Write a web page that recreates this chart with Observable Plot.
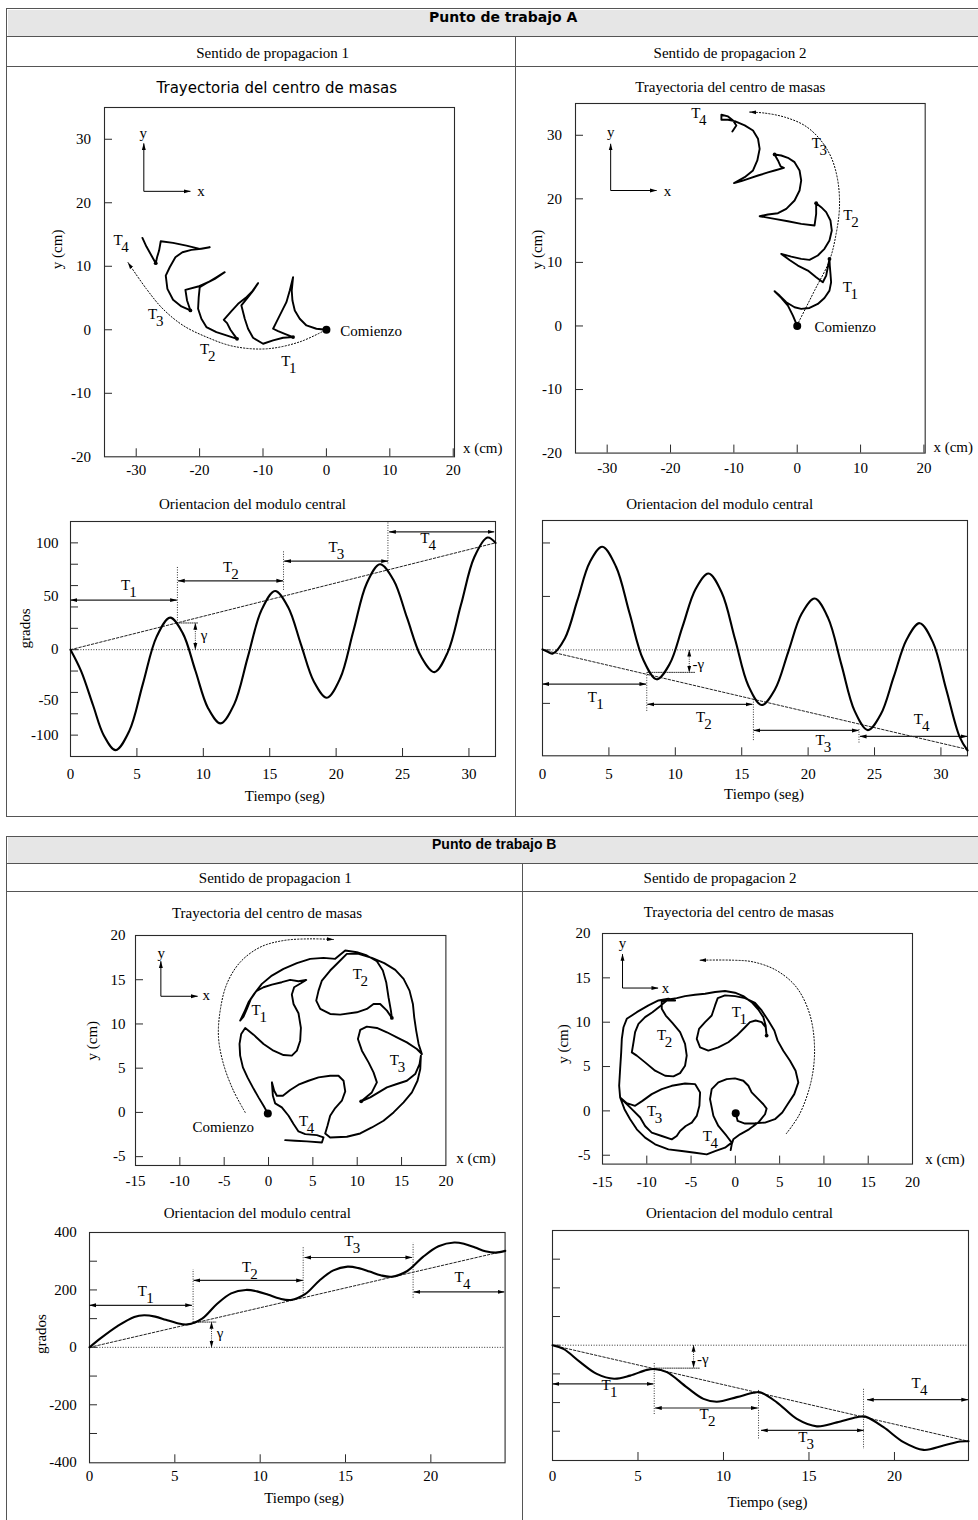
<!DOCTYPE html>
<html lang="es">
<head>
<meta charset="utf-8">
<script src="https://cdn.jsdelivr.net/npm/d3@7"></script>
<script src="https://cdn.jsdelivr.net/npm/@observablehq/plot@0.6"></script>
<style>
html,body{margin:0;padding:0;background:#fff;}
body{width:978px;height:1520px;overflow:hidden;}
#page{position:relative;width:978px;height:1520px;overflow:hidden;font-family:"Liberation Serif","Times New Roman",serif;color:#000;}
#page div{position:absolute;white-space:nowrap;}
</style>
</head>
<body>
<div id="page"></div>
<script>
// ---------------- DATA ----------------
// tick values / labels
const xTicksTrajA = [-30,-20,-10,0,10,20];
const xLabelsTrajA = [-30,-20,-10,0,10,20];
const yTicksTrajA = [-10,0,10,20,30];
const yLabelsTrajA = [-20,-10,0,10,20,30];
const xTicksTrajB = [-10,-5,0,5,10,15];
const xLabelsTrajB = [-15,-10,-5,0,5,10,15,20];
const yTicksTrajB = [-5,0,5,10,15];
const yLabelsTrajB = [-5,0,5,10,15,20];
const xTicksOriA = [5,10,15,20,25,30];
const xLabelsOriA = [0,5,10,15,20,25,30];
const yTicksOriA1 = [-80,-60,-40,-20,0,20,40,60,80,100];
const yLabelsOriA1 = [[100,"100"],[50,"50"],[0,"0"],[-47,"-50"],[-80,"-100"]];
const yTicksOriA2 = [-50,0,50,100];
const xTicksOriB = [5,10,15,20];
const xLabelsOriB = [0,5,10,15,20];
const yTicksOriB = [-300,-200,-100,0,100,200,300];
const yLabelsOriB1 = [-400,-200,0,200,400];

// Punto A, sentido 1 : trayectoria (cm)
const trayA1 = [[0,0],[-1.58,0.16],[-3.15,0.68],[-4.21,1.73],[-4.99,3.04],[-5.36,4.61],[-5.47,6.18],[-5.26,8.28],[-5.78,6.18],[-6.31,4.35],[-7.10,2.78],[-7.89,1.21],[-8.41,0.16],[-7.62,-0.21],[-6.57,-0.63],[-5.26,-1.15],[-6.83,-1.26],[-8.41,-1.68],[-9.99,-2.20],[-11.57,-1.26],[-12.36,0.16],[-12.88,1.73],[-13.41,3.83],[-12.36,5.14],[-11.46,6.29],[-10.78,7.34],[-11.67,6.08],[-12.72,5.03],[-13.93,4.09],[-14.98,2.94],[-16.19,1.57],[-15.67,1.05],[-15.14,0],[-14.62,-0.73],[-14.09,-1.42],[-15.77,-0.89],[-17.35,-0.37],[-18.93,0.42],[-19.72,1.73],[-20.24,3.30],[-20.14,5.14],[-19.98,6.71],[-18.93,7.34],[-17.61,8.02],[-16.04,9.07],[-17.35,8.28],[-18.66,7.49],[-20.24,6.81],[-22.24,6.29],[-21.98,4.61],[-21.45,3.04],[-22.87,3.67],[-24.19,4.72],[-25.08,6.45],[-25.34,8.54],[-24.71,9.85],[-23.82,11.43],[-22.71,12.21],[-21.29,12.58],[-19.72,12.74],[-18.40,13.0],[-19.98,12.74],[-22.08,13.26],[-24.19,13.68],[-26.13,13.94],[-26.39,12.47],[-26.71,11.43],[-26.92,10.48],[-27.6,11.69],[-28.39,13.10],[-29.02,14.47]];
const jointsA1 = [[-5.26,-1.15],[-14.09,-1.42],[-21.45,3.04],[-26.92,10.48]];
const arcA1 = [[-0.26,-0.1],[-4.2,-1.9],[-9.46,-3.0],[-14.7,-2.6],[-18.9,-1.15],[-22.6,0.68],[-25.8,3.3],[-28.4,6.45],[-31.3,10.6]];
const labelsTrayA1 = [[-6.4,-4.9,"1"],[-19.2,-3.0,"2"],[-27.4,2.5,"3"],[-32.86,14.15,"4"]];
const insetA1 = [[-28.8,21.8,-28.8,29.35],[-28.8,21.8,-21.45,21.8]];
const insetLabA1 = [[-28.9,31.0,"y"],[-19.8,21.75,"x"]];

// Punto A, sentido 2 : trayectoria
const trayA2 = [[0,0],[-0.68,1.63],[-1.47,3.2],[-2.52,4.41],[-3.57,5.46],[-2.78,4.78],[-1.73,3.73],[-0.42,2.94],[0.63,2.68],[1.94,2.83],[3.25,3.46],[4.30,4.41],[5.09,5.56],[5.35,6.88],[5.25,8.19],[5.14,9.50],[5.09,10.55],[4.83,9.24],[4.57,7.93],[4.04,6.88],[2.99,7.66],[1.68,8.71],[0.1,9.50],[-1.21,10.39],[-2.52,11.34],[-0.94,10.92],[0.63,10.55],[1.94,10.39],[3.25,11.08],[4.30,12.13],[5.09,13.44],[5.46,15.01],[5.25,16.59],[4.57,17.90],[3.78,18.69],[2.99,19.32],[2.99,17.64],[2.73,15.80],[0.63,16.06],[-1.47,16.48],[-3.57,16.85],[-5.93,17.27],[-4.62,17.53],[-3.04,17.74],[-1.73,18.43],[-0.42,19.74],[0.37,21.31],[0.63,22.89],[0.37,24.46],[-0.42,25.77],[-1.47,26.46],[-2.52,26.82],[-3.57,26.98],[-3.04,26.04],[-2.62,25.09],[-2.10,24.88],[-3.57,24.46],[-4.62,24.15],[-6.19,23.67],[-7.77,23.15],[-8.82,22.78],[-9.97,22.47],[-8.29,23.41],[-6.98,24.46],[-6.30,26.04],[-5.93,27.87],[-6.19,29.45],[-6.98,30.76],[-8.29,31.55],[-9.87,32.23],[-10.92,32.44],[-11.97,32.44],[-11.97,33.23],[-10.92,32.97],[-10.13,32.34],[-9.61,31.55],[-10.24,30.60]];
const jointsA2 = [[5.09,10.55],[2.99,19.32],[-3.57,26.98]];
const arcA2 = [[0,0.16],[2.73,5.56],[5.09,10.29],[6.14,14.49],[6.67,18.69],[6.40,22.89],[5.35,26.56],[3.52,29.45],[1.15,31.55],[-1.99,32.86],[-5.14,33.49],[-7.51,33.65]];
const labelsTrayA2 = [[7.9,6.1,"1"],[8.0,17.5,"2"],[3.0,28.7,"3"],[-16.0,33.4,"4"]];
const insetA2 = [[-29.45,21.31,-29.45,28.66],[-29.45,21.31,-22.2,21.31]];
const insetLabA2 = [[-29.45,30.5,"y"],[-20.47,21.15,"x"]];

// Punto A : orientacion (grados)
const oriA1 = [[0,0],[0.8,-20],[1.7,-52],[2.5,-80],[3.4,-94],[4.43,-76],[5.45,-32],[6.48,12],[7.5,30],[8.45,15.5],[9.4,-19.5],[10.35,-54.5],[11.3,-69],[12.33,-51],[13.35,-7],[14.38,37],[15.4,55],[16.38,40],[17.35,5],[18.33,-30],[19.3,-45],[20.3,-27],[21.3,17.5],[22.3,62],[23.3,80],[24.33,65],[25.35,29.5],[26.38,-6],[27.4,-21],[28.4,-2.5],[29.4,42],[30.4,86.5],[31.4,105],[32,100]];
const trendA1 = [[0,0],[32,100]];
const boundsA1 = [[8.05,25,77.6],[16.04,56,93],[23.9,80.7,120]];
const periodsA1 = [[0,8.0,46.4],[8.1,16.0,64.5],[16.1,23.9,82.9],[24.0,31.9,110.3]];
const labelsOriA1 = [[4.14,60.7,"1"],[11.83,77.6,"2"],[19.77,95.6,"3"],[26.67,104,"4"]];
const gammaA1 = [[9.4,0,9.4,25]];
const gammaGuideA1 = [[8.0,25],[9.6,25]];
const gammaLabA1 = [[9.8,14,"γ"]];

const oriA2 = [[0,0.5],[0.35,-1.5],[0.75,-3.5],[1.69,11],[2.63,46.5],[3.56,82],[4.5,96.5],[5.53,78],[6.55,34.5],[7.58,-9],[8.6,-27.5],[9.58,-13],[10.55,22],[11.53,57],[12.5,71.5],[13.5,53.5],[14.5,10],[15.5,-33.5],[16.5,-51.5],[17.5,-37],[18.5,-2],[19.5,33.5],[20.5,48],[21.5,30],[22.5,-13.5],[23.5,-57],[24.5,-75],[25.48,-60],[26.45,-25],[27.43,10],[28.4,25],[29.4,7],[30.4,-37],[31.4,-81],[32,-94]];
const trendA2 = [[0,0],[32,-93]];
const boundsA2 = [[7.85,-21,-57],[15.88,-46,-85],[23.83,-74,-88]];
const periodsA2 = [[0,7.8,-31.9],[7.9,15.8,-50.9],[15.9,23.8,-75.3],[23.9,32.0,-80.9]];
const labelsOriA2 = [[3.76,-44,"1"],[11.9,-62.8,"2"],[20.9,-84,"3"],[28.3,-64.4,"4"]];
const gammaA2 = [[11.05,0,11.05,-21]];
const gammaGuideA2 = [[7.9,-21],[11.5,-21]];
const gammaLabA2 = [[11.3,-13,"-γ"]];

// Punto B, sentido 1 : trayectoria
const trayB1 = [[-0.08,-0.11],[-0.56,0.75],[-1.13,1.70],[-1.77,2.83],[-2.37,3.96],[-2.89,5.09],[-3.20,6.42],[-3.27,7.74],[-3.08,8.87],[-2.63,9.55],[-1.69,8.79],[-0.56,7.74],[0.56,6.98],[1.69,6.49],[2.63,6.42],[3.20,6.98],[3.57,8.11],[3.65,9.55],[3.38,11.21],[2.82,12.26],[2.63,13.32],[2.89,14.15],[3.65,14.60],[4.25,14.98],[3.38,14.83],[2.44,14.98],[1.50,14.72],[0.38,14.45],[-0.56,14.15],[-1.39,13.70],[-1.99,12.83],[-2.44,11.70],[-2.82,10.83],[-3.20,10.38],[-2.74,11.32],[-2.26,12.45],[-1.62,13.40],[-0.75,14.53],[0.38,15.47],[1.69,16.23],[3.20,16.87],[4.70,17.36],[6.20,17.47],[7.52,17.36],[8.65,18.30],[9.96,18.11],[11.09,17.74],[12.22,17.09],[12.89,16.04],[13.27,14.72],[13.53,13.02],[13.80,11.51],[13.91,10.68],[13.35,11.51],[12.59,12.26],[11.84,12.26],[11.09,11.70],[9.96,11.32],[8.08,11.06],[6.95,11.13],[5.83,11.70],[5.38,12.64],[5.64,13.77],[6.02,14.91],[6.95,16.04],[7.89,16.98],[8.83,17.92],[10.15,17.92],[11.65,17.47],[13.05,16.87],[14.29,16.11],[15.23,15.09],[15.90,13.77],[16.28,12.26],[16.43,10.75],[16.65,9.25],[16.92,7.74],[17.29,6.60],[16.73,7.17],[15.60,7.92],[14.47,8.49],[13.35,9.06],[12.22,9.55],[11.09,9.70],[10.34,9.32],[10.08,8.30],[10.53,6.98],[11.28,5.66],[11.84,4.53],[12.22,3.40],[11.65,2.26],[10.90,1.62],[10.45,1.25],[11.47,1.70],[12.41,2.26],[13.35,2.83],[14.47,3.21],[15.60,3.58],[16.54,4.34],[17.03,5.47],[17.18,6.42],[17.11,4.91],[16.80,3.58],[16.17,2.26],[15.23,1.13],[14.10,0],[12.97,-0.94],[11.65,-1.70],[10.34,-2.38],[8.83,-2.75],[6.95,-2.83],[6.39,-2.38],[6.65,-1.51],[6.95,-0.38],[7.52,0.49],[8.27,1.32],[8.65,2.38],[8.46,3.58],[7.89,4.15],[6.95,4.15],[5.64,3.96],[4.51,3.58],[3.38,3.13],[2.44,2.53],[1.62,1.89],[0.94,1.89],[0.64,2.45],[0.38,3.40],[0.49,1.89],[0.75,1.02],[1.50,0.57],[2.26,-0.38],[2.82,-1.32],[3.38,-2.15],[4.14,-2.45],[5.45,-2.57],[6.20,-2.83],[6.02,-3.40],[4.32,-3.28],[3.01,-3.21],[1.88,-3.13]];
const jointsB1 = [[13.91,10.68],[10.45,1.25]];
const arcB1 = [[-2.63,0],[-3.95,2.45],[-5.08,5.47],[-5.64,8.49],[-5.45,11.51],[-4.70,14.53],[-3.20,16.98],[-0.94,18.68],[1.69,19.43],[4.70,19.62],[7.33,19.55]];
const labelsTrayB1 = [[-1.39,11.5,"1"],[10.0,15.6,"2"],[14.2,5.9,"3"],[3.95,-0.94,"4"]];
const insetB1 = [[-12.14,13.13,-12.14,17.09],[-12.14,13.13,-8.0,13.13]];
const insetLabB1 = [[-12.1,18.0,"y"],[-7.03,13.2,"x"]];

// Punto B, sentido 2 : trayectoria
const trayB2 = [[0.04,-0.26],[0.26,-1.13],[1.09,-1.43],[2.22,-1.40],[3.35,-1.32],[4.47,-0.94],[5.30,-0.19],[5.90,0.75],[6.65,1.89],[7.11,3.21],[6.80,4.53],[6.17,5.66],[5.41,6.79],[4.77,7.92],[4.40,9.06],[3.72,10.19],[2.97,11.32],[2.22,12.19],[1.09,12.72],[-0.04,12.94],[-1.17,13.02],[-1.99,12.72],[-2.29,11.89],[-2.67,10.75],[-3.42,10.0],[-4.10,9.25],[-4.36,8.11],[-3.98,7.17],[-3.05,6.79],[-1.92,7.17],[-0.79,7.74],[0.15,8.49],[1.09,9.43],[1.65,10.0],[2.29,10.19],[2.97,10.0],[3.42,9.43],[3.53,8.49],[3.42,9.62],[3.16,10.57],[2.59,11.43],[1.84,12.26],[0.90,12.94],[-0.04,13.32],[-1.17,13.51],[-2.29,13.40],[-3.42,13.21],[-4.55,13.09],[-5.68,12.94],[-6.62,12.72],[-7.56,12.57],[-8.31,12.34],[-8.31,11.51],[-7.86,10.75],[-7.11,9.92],[-6.24,8.87],[-5.68,7.55],[-5.49,6.23],[-5.68,5.09],[-6.24,4.26],[-6.99,3.89],[-7.93,3.96],[-9.06,4.53],[-10.19,5.47],[-11.13,6.23],[-11.69,6.60],[-11.50,7.74],[-11.32,8.87],[-10.94,9.81],[-10.19,10.57],[-9.36,11.13],[-8.50,11.81],[-7.74,12.45],[-6.80,12.45],[-7.56,12.64],[-8.68,12.45],[-9.81,11.89],[-11.13,11.13],[-12.26,10.38],[-12.63,9.43],[-12.82,8.11],[-12.89,6.60],[-13.01,4.72],[-13.12,2.83],[-13.01,1.51],[-12.26,0.87],[-11.32,0.57],[-10.49,1.13],[-9.44,1.89],[-8.31,2.45],[-7.18,2.83],[-5.68,3.09],[-4.55,3.02],[-3.98,2.08],[-4.06,0.57],[-4.36,-0.57],[-4.92,-1.32],[-5.60,-1.70],[-6.24,-2.26],[-6.62,-2.83],[-7.18,-3.21],[-8.31,-2.83],[-9.44,-2.45],[-10.19,-1.70],[-10.75,-0.75],[-11.69,0.19],[-12.44,0.94],[-13.01,1.51],[-12.52,0.19],[-11.88,-0.94],[-11.13,-2.08],[-10.19,-3.02],[-9.06,-3.77],[-7.56,-4.34],[-6.05,-4.53],[-4.55,-4.72],[-3.23,-4.91],[-2.29,-4.53],[-1.17,-4.15],[-0.41,-3.58],[-0.98,-2.83],[-1.92,-1.70],[-2.48,-0.57],[-2.86,1.32],[-2.67,2.45],[-1.92,3.21],[-0.98,3.58],[-0.04,3.66],[0.90,3.40],[1.47,2.83],[1.84,2.08],[2.59,1.32],[3.16,0.75],[3.53,0.26],[3.35,-0.38],[2.59,-1.32],[1.54,-2.08],[0.53,-2.64],[-0.23,-3.21],[-0.41,-3.77],[-0.53,-4.42]];
const jointsB2 = [[3.53,8.49]];
const arcB2 = [[5.75,-2.57],[7.25,-0.37],[8.57,3.40],[8.94,7.17],[8.38,10.95],[6.88,13.96],[4.62,15.85],[1.99,16.8],[-0.27,16.99],[-4.02,16.99]];
const labelsTrayB2 = [[0.11,11.1,"1"],[-8.34,8.5,"2"],[-9.47,0,"3"],[-3.16,-2.83,"4"]];
const insetB2 = [[-12.74,13.85,-12.74,17.67],[-12.74,13.85,-8.72,13.85]];
const insetLabB2 = [[-12.74,18.95,"y"],[-7.89,13.85,"x"]];

// Punto B : orientacion
const oriB1 = [[0,0],[0.66,32],[1.64,74],[2.62,106],[3.2,112],[3.85,107],[4.47,96],[5.1,85],[5.74,80],[6.6,100],[7.45,150],[8.3,188],[9.16,200],[9.82,195],[10.48,183],[11.14,170],[11.8,165],[12.63,185],[13.46,232],[14.29,268],[15.12,281],[15.77,276],[16.41,264],[17.06,251],[17.7,246],[18.62,266],[19.54,315],[20.45,352],[21.37,365],[21.98,360],[22.59,348],[23.19,335],[23.8,330],[24.36,336]];
const trendB1 = [[0,0],[24.35,336]];
const boundsB1 = [[6.07,88,272],[12.52,171,353],[18.96,173,365]];
const periodsB1 = [[0,6.0,146.5],[6.1,12.5,233],[12.6,18.9,313],[19.0,24.3,193]];
const labelsOriB1 = [[3.1,196.5,"1"],[9.2,280,"2"],[15.2,371,"3"],[21.66,243,"4"]];
const gammaB1 = [[7.15,0,7.15,88]];
const gammaGuideB1 = [[6.1,88],[7.4,88]];
const gammaLabB1 = [[7.45,51,"γ"]];

const oriB2 = [[0,0],[0.64,-13],[1.62,-59],[2.59,-100],[3.6,-117],[4.54,-106],[5.52,-86],[5.95,-83],[6.69,-94],[7.86,-147],[8.83,-187],[9.61,-197],[10.78,-181],[11.75,-166],[12.14,-164],[13.12,-199],[14.29,-257],[15.46,-283],[16.63,-269],[17.8,-251],[18.3,-249],[19.36,-286],[20.53,-338],[21.7,-365],[22.87,-350],[23.84,-336],[24.33,-335]];
const trendB2 = [[0,0],[24.33,-335]];
const boundsB2 = [[5.95,-62,-240],[12.05,-156,-327],[18.19,-152,-362]];
const periodsB2 = [[0,5.9,-135],[6.0,12.0,-219],[12.2,18.2,-297],[18.4,24.3,-190]];
const labelsOriB2 = [[3.14,-141,"1"],[8.87,-240,"2"],[14.64,-321,"3"],[21.27,-132.6,"4"]];
const gammaB2 = [[8.25,0,8.25,-78]];
const gammaGuideB2 = [[5.95,-80],[8.6,-80]];
const gammaLabB2 = [[8.45,-48,"-γ"]];

// ---------------- RENDER ----------------
const NS = "http://www.w3.org/2000/svg";
const SERIF = "'Liberation Serif','Times New Roman',serif";
const FR = "#2a2a2a";
const page = document.getElementById("page");
let ARROW = filledArrow;

function filledArrow(color, context) {
  const doc = (context && context.document) || document;
  const m = doc.createElementNS(NS, "marker");
  m.setAttribute("viewBox", "-5 -5 10 10");
  m.setAttribute("markerWidth", "7");
  m.setAttribute("markerHeight", "7");
  m.setAttribute("markerUnits", "userSpaceOnUse");
  m.setAttribute("refX", "4.5");
  m.setAttribute("orient", "auto-start-reverse");
  const p = doc.createElementNS(NS, "path");
  p.setAttribute("d", "M-5,-2.8L5,0L-5,2.8Z");
  p.setAttribute("fill", "black");
  p.setAttribute("stroke", "none");
  p.setAttribute("stroke-dasharray", "none");
  m.appendChild(p);
  return m;
}

function div(css, text) {
  const d = document.createElement("div");
  d.style.cssText = css;
  if (text != null) d.textContent = text;
  page.appendChild(d);
  return d;
}
function ctext(txt, cx, baseline, font) {
  div(`left:${cx-250}px;width:500px;text-align:center;top:${baseline-12.6}px;line-height:15px;font:${font || "15px " + SERIF};`, txt);
}

function addPlot(g, build) {
  const ml = 75, mt = 25, mr = 75, mb = 60;
  const W = g.R - g.L, H = g.B - g.T;
  const svg = Plot.plot({
    width: ml + W + mr, height: mt + H + mb,
    marginLeft: ml, marginTop: mt, marginRight: mr, marginBottom: mb,
    x: {domain: g.xd, axis: null},
    y: {domain: g.yd, axis: null},
    style: {fontFamily: SERIF, fontSize: "15px", background: "none", overflow: "visible", color: "black"},
    marks: build(W, H)
  });
  svg.style.position = "absolute";
  svg.style.left = (g.L - ml) + "px";
  svg.style.top = (g.T - mt) + "px";
  svg.style.maxWidth = "none";
  page.appendChild(svg);
}

const px = d => d[0], py = d => d[1];

function commonAxes(W, H, o) {
  const m = [
    Plot.frame({stroke: FR, strokeWidth: 1.1}),
    Plot.ruleX(o.xt, {x: d => d, insetTop: H - 8, stroke: FR}),
    Plot.ruleY(o.yt, {y: d => d, insetRight: W - 8, stroke: FR}),
    Plot.text(o.xl, {x: d => d, frameAnchor: "bottom", dy: o.xDy, text: d => String(d), fontSize: 15})
  ];
  if (o.yl) m.push(Plot.text(o.yl, {y: d => Array.isArray(d) ? d[0] : d, frameAnchor: "left", dx: o.yDx, textAnchor: "end", text: d => Array.isArray(d) ? d[1] : String(d), fontSize: 15}));
  return m;
}

function trajPanel(g, o) {
  addPlot(g, (W, H) => [
    ...commonAxes(W, H, o),
    Plot.text(["x (cm)"], {frameAnchor: "bottom-right", textAnchor: "start", dx: o.xcm[0], dy: o.xcm[1], text: d => d}),
    Plot.text(["y (cm)"], {frameAnchor: "left", rotate: -90, dx: o.ycm[0], dy: o.ycm[1], text: d => d}),
    Plot.link(o.inset, {x1: d => d[0], y1: d => d[1], x2: d => d[2], y2: d => d[3], stroke: "black", strokeWidth: 1, markerEnd: ARROW}),
    Plot.text(o.insetLab, {x: px, y: py, text: d => d[2]}),
    Plot.line(o.arc, {x: px, y: py, curve: "catmull-rom", stroke: "black", strokeWidth: 1, strokeDasharray: "1.2,2", markerEnd: ARROW}),
    Plot.line(o.path, {x: px, y: py, stroke: "black", strokeWidth: 1.9, strokeLinejoin: "round", strokeLinecap: "round"}),
    Plot.dot(o.joints, {x: px, y: py, r: 1.9, fill: "black"}),
    Plot.dot([o.path[0]], {x: px, y: py, r: 4, fill: "black"}),
    Plot.text(o.labels, {x: px, y: py, text: () => "T"}),
    Plot.text(o.labels, {x: px, y: py, text: d => d[2], dx: 7, dy: 7}),
    ...(o.comienzo ? [Plot.text([o.comienzo], {x: px, y: py, text: () => "Comienzo", textAnchor: o.comienzo[2]})] : [])
  ]);
}

function oriPanel(g, o) {
  addPlot(g, (W, H) => [
    ...commonAxes(W, H, o),
    Plot.text(["Tiempo (seg)"], {frameAnchor: "bottom", dx: o.tiempo[0], dy: o.tiempo[1], text: d => d}),
    ...(o.grados ? [Plot.text(["grados"], {frameAnchor: "left", rotate: -90, dx: o.grados[0], dy: o.grados[1], text: d => d})] : []),
    Plot.ruleY([0], {stroke: "#333", strokeWidth: 1, strokeDasharray: "1,1.6"}),
    Plot.line(o.trend, {x: px, y: py, stroke: "#222", strokeWidth: 1, strokeDasharray: "2.5,1.8"}),
    Plot.link(o.bounds, {x1: d => d[0], x2: d => d[0], y1: d => d[1], y2: d => d[2], stroke: "#333", strokeWidth: 1, strokeDasharray: "1,1.5"}),
    Plot.link(o.periods, {x1: d => d[0], x2: d => d[1], y1: d => d[2], y2: d => d[2], stroke: "#222", strokeWidth: 1.2, markerStart: ARROW, markerEnd: ARROW}),
    Plot.link(o.gamma, {x1: d => d[0], y1: d => d[1], x2: d => d[2], y2: d => d[3], stroke: "#333", strokeWidth: 1, strokeDasharray: "1,1.2", markerStart: ARROW, markerEnd: ARROW}),
    Plot.line(o.gammaGuide, {x: px, y: py, stroke: "#333", strokeWidth: 1, strokeDasharray: "1,1.2"}),
    Plot.text(o.gammaLab, {x: px, y: py, text: d => d[2], textAnchor: "start"}),
    Plot.line(o.curve, {x: px, y: py, curve: "catmull-rom", stroke: "black", strokeWidth: 2.1}),
    Plot.text(o.labels, {x: px, y: py, text: () => "T"}),
    Plot.text(o.labels, {x: px, y: py, text: d => d[2], dx: 7.5, dy: 7})
  ]);
}

function render() {
  page.innerHTML = "";
  // ---- boxes ----
  const BC = "#555";
  // Box A
  div(`left:7.5px;top:9.5px;width:1020px;height:26px;background:#e6e6e6;`);
  div(`left:6px;top:8px;width:1022px;height:809px;border:1.5px solid ${BC};box-sizing:border-box;`);
  div(`left:7px;top:35.5px;width:1020px;height:0;border-top:1.5px solid ${BC};`);
  div(`left:7px;top:65.5px;width:1020px;height:0;border-top:1.5px solid ${BC};`);
  div(`left:514.5px;top:36px;width:0;height:780px;border-left:1.5px solid ${BC};`);
  div(`left:429px;top:9px;height:27px;line-height:27px;font:bold 14px 'DejaVu Sans',sans-serif;`, "Punto de trabajo A");
  // Box B
  div(`left:7.5px;top:837px;width:1020px;height:26px;background:#e6e6e6;`);
  div(`left:6px;top:835.5px;width:1022px;height:720px;border:1.5px solid ${BC};box-sizing:border-box;`);
  div(`left:7px;top:862.5px;width:1020px;height:0;border-top:1.5px solid ${BC};`);
  div(`left:7px;top:891px;width:1020px;height:0;border-top:1.5px solid ${BC};`);
  div(`left:521.5px;top:863px;width:0;height:700px;border-left:1.5px solid ${BC};`);
  div(`left:432px;top:836px;height:27px;line-height:27px;font:bold 14px 'Liberation Sans',Arial,sans-serif;`, "Punto de trabajo B");

  ctext("Sentido de propagacion 1", 272.7, 57.3);
  ctext("Sentido de propagacion 2", 730, 57.3);
  ctext("Sentido de propagacion 1", 275.3, 882.3);
  ctext("Sentido de propagacion 2", 720, 882.3);

  ctext("Trayectoria del centro de masas", 276.8, 92, "15px 'DejaVu Sans',sans-serif");
  ctext("Trayectoria del centro de masas", 730.3, 91.7);
  ctext("Orientacion del modulo central", 252.5, 508.5);
  ctext("Orientacion del modulo central", 719.7, 508.5);
  ctext("Trayectoria del centro de masas", 267, 917.3);
  ctext("Trayectoria del centro de masas", 738.8, 916.7);
  ctext("Orientacion del modulo central", 257.3, 1217.3);
  ctext("Orientacion del modulo central", 739.5, 1217.3);

  // ---- trajectories ----
  trajPanel({L: 104.3, T: 107, R: 454.3, B: 456.3, xd: [-35, 20.2], yd: [-20, 35]}, {
    xt: xTicksTrajA, yt: yTicksTrajA, xl: xLabelsTrajA, yl: yLabelsTrajA, xDy: 18, yDx: -13.6,
    xcm: [8.4, -4], ycm: [-47, -13],
    path: trayA1, joints: jointsA1, arc: arcA1, labels: labelsTrayA1, inset: insetA1, insetLab: insetLabA1,
    comienzo: [2.2, -0.2, "start"]
  });
  trajPanel({L: 575.3, T: 102.7, R: 925, B: 452.3, xd: [-35, 20.2], yd: [-20, 35]}, {
    xt: xTicksTrajA, yt: yTicksTrajA, xl: xLabelsTrajA, yl: yLabelsTrajA, xDy: 20, yDx: -13.6,
    xcm: [8.3, -1], ycm: [-38.6, -9],
    path: trayA2, joints: jointsA2, arc: arcA2, labels: labelsTrayA2, inset: insetA2, insetLab: insetLabA2,
    comienzo: [2.73, -0.2, "start"]
  });
  trajPanel({L: 135.3, T: 935, R: 445.7, B: 1165, xd: [-15, 20], yd: [-6, 20]}, {
    xt: xTicksTrajB, yt: yTicksTrajB, xl: xLabelsTrajB, yl: yLabelsTrajB, xDy: 21, yDx: -10,
    xcm: [10.3, -2], ycm: [-43.6, 10],
    path: trayB1, joints: jointsB1, arc: arcB1, labels: labelsTrayB1, inset: insetB1, insetLab: insetLabB1,
    comienzo: [-5.1, -1.7, "middle"]
  });
  trajPanel({L: 602.3, T: 932.7, R: 912.3, B: 1163.3, xd: [-15, 20], yd: [-6, 20]}, {
    xt: xTicksTrajB, yt: yTicksTrajB, xl: xLabelsTrajB, yl: yLabelsTrajB, xDy: 23, yDx: -12,
    xcm: [12.7, 0], ycm: [-39.6, 15],
    path: trayB2, joints: jointsB2, arc: arcB2, labels: labelsTrayB2, inset: insetB2, insetLab: insetLabB2,
    comienzo: null
  });

  // ---- orientations ----
  oriPanel({L: 70.3, T: 521.3, R: 495.3, B: 756.3, xd: [0, 32], yd: [-100, 120]}, {
    xt: xTicksOriA, yt: yTicksOriA1, xl: xLabelsOriA, yl: yLabelsOriA1, xDy: 22, yDx: -12,
    tiempo: [1.7, 44], grados: [-45.3, 9.5],
    curve: oriA1, trend: trendA1, bounds: boundsA1, periods: periodsA1, labels: labelsOriA1,
    gamma: gammaA1, gammaGuide: gammaGuideA1, gammaLab: gammaLabA1
  });
  oriPanel({L: 542.3, T: 520, R: 967.3, B: 755.3, xd: [0, 32], yd: [-99, 121]}, {
    xt: xTicksOriA, yt: yTicksOriA2, xl: xLabelsOriA, yl: null, xDy: 23, yDx: -12,
    tiempo: [9, 43], grados: null,
    curve: oriA2, trend: trendA2, bounds: boundsA2, periods: periodsA2, labels: labelsOriA2,
    gamma: gammaA2, gammaGuide: gammaGuideA2, gammaLab: gammaLabA2
  });
  oriPanel({L: 88.7, T: 1231.7, R: 504.3, B: 1462, xd: [0, 24.35], yd: [-402, 400]}, {
    xt: xTicksOriB, yt: yTicksOriB, xl: xLabelsOriB, yl: yLabelsOriB1, xDy: 18, yDx: -12.7,
    tiempo: [6.8, 40], grados: [-48, 6.4],
    curve: oriB1, trend: trendB1, bounds: boundsB1, periods: periodsB1, labels: labelsOriB1,
    gamma: gammaB1, gammaGuide: gammaGuideB1, gammaLab: gammaLabB1
  });
  oriPanel({L: 552.3, T: 1230, R: 968.3, B: 1460, xd: [0, 24.33], yd: [-402, 400]}, {
    xt: xTicksOriB, yt: yTicksOriB, xl: xLabelsOriB, yl: null, xDy: 20, yDx: -12,
    tiempo: [7, 46.7], grados: null,
    curve: oriB2, trend: trendB2, bounds: boundsB2, periods: periodsB2, labels: labelsOriB2,
    gamma: gammaB2, gammaGuide: gammaGuideB2, gammaLab: gammaLabB2
  });
}

try {
  render();
} catch (e) {
  console.error("custom marker failed, fallback:", e);
  ARROW = "arrow";
  render();
}
</script>
</body>
</html>
